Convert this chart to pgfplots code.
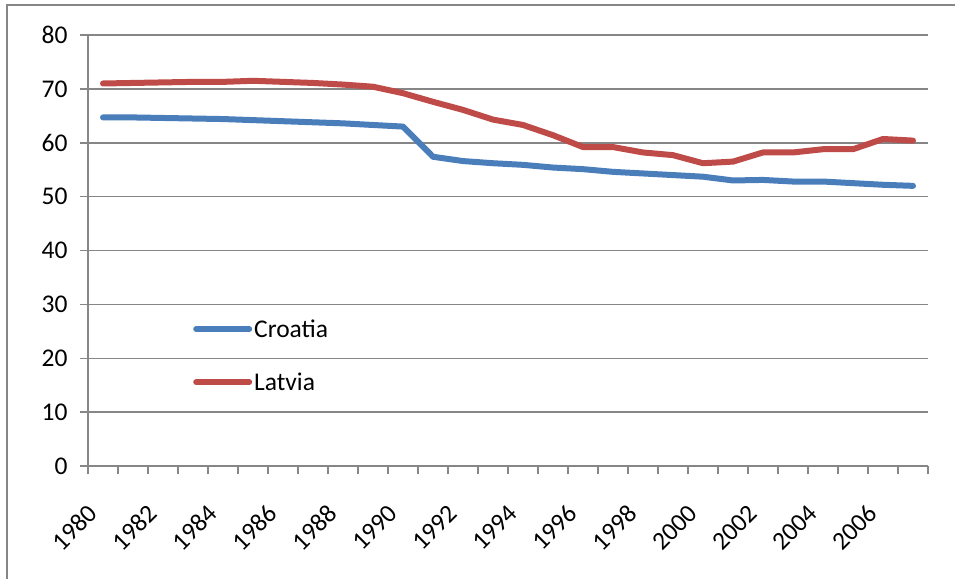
\documentclass[border=0pt]{standalone}
\usepackage{pgfplots}
\pgfplotsset{compat=1.18}
\usepackage{graphicx}
\usepackage{fontspec}
\setmainfont{Carlito}
\definecolor{cblue}{HTML}{4A7EBB}
\definecolor{cred}{HTML}{BE4B48}
\definecolor{gline}{HTML}{868686}
\newcommand{\rl}[1]{\rotatebox{45}{#1}}
\begin{document}
\begin{tikzpicture}
\useasboundingbox (0,0) rectangle (955pt,579pt);
\draw[gline, line width=1.5pt] (7pt,0pt) -- (7pt,574pt) -- (955pt,574pt);
\begin{axis}[
  at={(88pt,113pt)}, anchor=south west,
  scale only axis, width=840pt, height=431pt,
  xmin=0, xmax=28, ymin=0, ymax=80,
  axis x line=bottom, axis y line=left,
  axis line style={-, gline, line width=1.5pt},
  ytick={0,10,...,80},
  ymajorgrids, grid style={gline, line width=1.5pt},
  xtick={0.5,2.5,...,26.5},
  xticklabels={\rl{1980},\rl{1982},\rl{1984},\rl{1986},\rl{1988},\rl{1990},\rl{1992},\rl{1994},\rl{1996},\rl{1998},\rl{2000},\rl{2002},\rl{2004},\rl{2006}},
  minor xtick={0,1,...,28},
  tick align=outside,
  major tick length=8pt, minor tick length=8pt,
  major x tick style={draw=none},
  minor x tick style={gline, line width=1.5pt},
  major y tick style={gline, line width=1.5pt},
  /pgf/number format/assume math mode=true,
  ticklabel style={font=\fontsize{25.5}{30}\selectfont},
  yticklabel style={xshift=-9pt},
  xticklabel style={anchor=north east, inner sep=0pt},
  xticklabel shift=0pt,
  every x tick label/.append style={xshift=-4pt, yshift=-29pt},
  legend style={at={(rel axis cs:0.125,0.345)}, anchor=north west, draw=none, fill=none,
    font=\fontsize{25.5}{30}\selectfont, row sep=30pt, inner sep=0pt,
    /tikz/every even column/.append style={column sep=2pt}},
  legend cell align=left,
  legend image code/.code={\draw[#1, line cap=round] (0pt,0pt) -- (53pt,0pt);},
]
\addplot[cblue, line width=6pt, line cap=round, line join=round] coordinates {
(0.5,64.7)(1.5,64.7)(2.5,64.6)(3.5,64.5)(4.5,64.4)(5.5,64.2)(6.5,64.0)(7.5,63.8)(8.5,63.6)(9.5,63.3)
(10.5,63.0)(11.5,57.4)(12.5,56.6)(13.5,56.2)(14.5,55.9)(15.5,55.4)(16.5,55.1)(17.5,54.6)(18.5,54.3)(19.5,54.0)
(20.5,53.7)(21.5,53.0)(22.5,53.1)(23.5,52.8)(24.5,52.8)(25.5,52.5)(26.5,52.2)(27.5,52.0)};
\addlegendentry{Croatia}
\addplot[cred, line width=6pt, line cap=round, line join=round] coordinates {
(0.5,71.0)(1.5,71.1)(2.5,71.2)(3.5,71.3)(4.5,71.3)(5.5,71.5)(6.5,71.3)(7.5,71.1)(8.5,70.8)(9.5,70.4)
(10.5,69.2)(11.5,67.6)(12.5,66.1)(13.5,64.3)(14.5,63.3)(15.5,61.4)(16.5,59.2)(17.5,59.2)(18.5,58.2)(19.5,57.7)
(20.5,56.2)(21.5,56.5)(22.5,58.2)(23.5,58.2)(24.5,58.8)(25.5,58.8)(26.5,60.7)(27.5,60.4)};
\addlegendentry{Latvia}
\end{axis}
\end{tikzpicture}
\end{document}
